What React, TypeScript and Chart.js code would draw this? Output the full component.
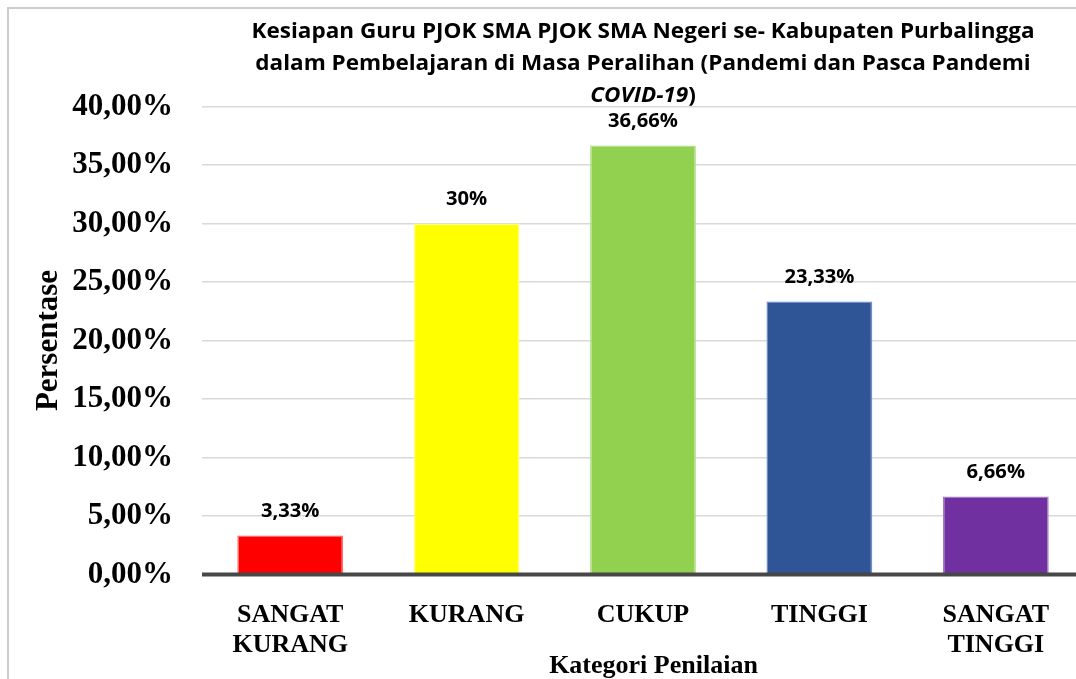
import React, { useEffect, useRef } from 'react';
import { Chart, registerables } from 'chart.js';

Chart.register(...registerables);

const categories: (string | string[])[] = [['SANGAT', 'KURANG'], 'KURANG', 'CUKUP', 'TINGGI', ['SANGAT', 'TINGGI']];
const values = [3.33, 30, 36.66, 23.33, 6.66];
const valueLabels = ['3,33%', '30%', '36,66%', '23,33%', '6,66%'];
const barColors = ['#FF0000', '#FFFF00', '#92D050', '#2F5597', '#7030A0'];
const barBorders = ['#FF6A6A', '#FFFF8A', '#B4E08A', '#6F8FC6', '#9E7CC4'];
const titleLines = [
  'Kesiapan Guru PJOK SMA PJOK SMA Negeri se- Kabupaten Purbalingga',
  'dalam Pembelajaran di Masa Peralihan (Pandemi dan Pasca Pandemi',
];
const titleItalic = 'COVID-19';
const titleTail = ')';
const yTitle = 'Persentase';
const xTitle = 'Kategori Penilaian';
const yMin = 0;
const yMax = 40;
const yStep = 5;

const SANS = '"Open Sans"';

const decor = {
  id: 'decor',
  beforeDraw(chart: any) {
    const ctx = chart.ctx;
    ctx.save();
    ctx.strokeStyle = '#cccccc';
    ctx.lineWidth = 2;
    ctx.beginPath();
    ctx.moveTo(8, 1000);
    ctx.lineTo(8, 8);
    ctx.lineTo(1200, 8);
    ctx.stroke();
    ctx.restore();
  },
  afterDatasetsDraw(chart: any) {
    const ctx = chart.ctx;
    const ca = chart.chartArea;
    const cx = (ca.left + ca.right) / 2;
    ctx.save();
    // baseline
    ctx.strokeStyle = '#474747';
    ctx.lineWidth = 4;
    ctx.beginPath();
    ctx.moveTo(ca.left, ca.bottom);
    ctx.lineTo(ca.right, ca.bottom);
    ctx.stroke();

    // data labels
    ctx.fillStyle = '#000';
    ctx.textAlign = 'center';
    ctx.textBaseline = 'alphabetic';
    ctx.font = `bold 19px ${SANS}`;
    const sx = 70 / ctx.measureText('36,66%').width;
    const meta = chart.getDatasetMeta(0);
    meta.data.forEach((bar: any, i: number) => {
      ctx.save();
      ctx.translate(bar.x, bar.y - 18.5);
      ctx.scale(sx, 1);
      ctx.fillText(valueLabels[i], 0, 0);
      ctx.restore();
    });

    // title
    ctx.font = `bold 21px ${SANS}`;
    const ts = 783 / ctx.measureText(titleLines[0]).width;
    const baselines = [37.5, 70, 102];
    titleLines.forEach((line, i) => {
      ctx.save();
      ctx.translate(cx, baselines[i]);
      ctx.scale(ts, 1);
      ctx.textAlign = 'center';
      ctx.fillText(line, 0, 0);
      ctx.restore();
    });
    ctx.font = `italic bold 21px ${SANS}`;
    const wi = ctx.measureText(titleItalic).width;
    ctx.font = `bold 21px ${SANS}`;
    const wt = ctx.measureText(titleTail).width;
    ctx.save();
    ctx.translate(cx - ((wi + wt) * ts) / 2, baselines[2]);
    ctx.scale(ts, 1);
    ctx.textAlign = 'left';
    ctx.font = `italic bold 21px ${SANS}`;
    ctx.fillText(titleItalic, 0, 0);
    ctx.font = `bold 21px ${SANS}`;
    ctx.fillText(titleTail, wi, 0);
    ctx.restore();

    // axis titles
    ctx.font = 'bold 31px "Liberation Serif"';
    ctx.textAlign = 'center';
    ctx.save();
    ctx.translate(57, (ca.top + ca.bottom) / 2);
    ctx.rotate(-Math.PI / 2);
    ctx.fillText(yTitle, 0, 0);
    ctx.restore();

    ctx.font = 'bold 26px "Liberation Serif"';
    ctx.fillText(xTitle, 653.5, 672.5);
    ctx.restore();
  },
};

export default function App() {
  const ref = useRef<HTMLCanvasElement>(null);
  useEffect(() => {
    const canvas = ref.current;
    if (!canvas) return;
    const chart = new Chart(canvas, {
      type: 'bar',
      data: {
        labels: categories,
        datasets: [
          {
            data: values,
            backgroundColor: barColors,
            borderColor: barBorders,
            borderWidth: 1.5,
            barPercentage: 0.6,
            categoryPercentage: 1,
          },
        ],
      },
      options: {
        animation: false,
        responsive: false,
        devicePixelRatio: 1,
        layout: { padding: { top: 106.5, right: 16, left: 0, bottom: 0 } },
        plugins: { legend: { display: false }, tooltip: { enabled: false }, title: { display: false } },
        scales: {
          x: {
            grid: { display: false },
            border: { display: false },
            ticks: {
              color: '#000',
              font: { family: '"Liberation Serif"', size: 26, weight: 'bold', lineHeight: 1.15 },
              padding: 18,
              maxRotation: 0,
              autoSkip: false,
            },
            afterFit: (s: any) => {
              s.height = 104.5;
            },
          },
          y: {
            min: yMin,
            max: yMax,
            ticks: {
              stepSize: yStep,
              callback: (v: any) => Number(v).toFixed(2).replace('.', ',') + '%',
              color: '#000',
              font: { family: '"Liberation Serif"', size: 31, weight: 'bold' },
              padding: 29,
            },
            grid: { color: '#d9d9d9', lineWidth: 1.5, drawTicks: false },
            border: { display: false },
            afterFit: (s: any) => {
              s.width = 202;
            },
          },
        },
      },
      plugins: [decor],
    } as any);
    return () => chart.destroy();
  }, []);
  return (
    <div style={{ position: 'fixed', left: 0, top: 0, width: 1076, height: 679, overflow: 'hidden', background: '#fff' }}>
      <canvas ref={ref} width={1100} height={679} style={{ display: 'block' }} />
    </div>
  );
}
